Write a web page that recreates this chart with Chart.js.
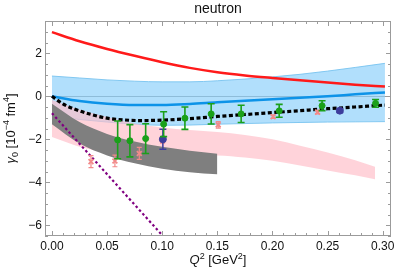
<!DOCTYPE html>
<html>
<head>
<meta charset="utf-8">
<script src="https://cdn.jsdelivr.net/npm/chart.js@4.4.1/dist/chart.umd.min.js"></script>
<style>
  html, body { margin: 0; padding: 0; background: #fff; }
  #wrap { width: 399px; height: 278px; }
</style>
</head>
<body>
<div id="wrap"><canvas id="gammaChart"></canvas></div>
<script>
// axis ticks
const xTicks = [0, 0.05, 0.10, 0.15, 0.20, 0.25, 0.30];
const yTicks = [-6, -4, -2, 0, 2];

// theory curves
const curveQ2   = [0, 0.025, 0.05, 0.075, 0.1, 0.125, 0.15, 0.175, 0.2, 0.225, 0.25, 0.275, 0.302];
const redCurve  = [2.98, 2.56, 2.2, 1.88, 1.58, 1.32, 1.12, 0.97, 0.85, 0.74, 0.64, 0.54, 0.45];
const blueCurve = [0, -0.22, -0.35, -0.41, -0.41, -0.36, -0.28, -0.21, -0.14, -0.07, 0.0, 0.09, 0.18];
const blueUpper = [0.94, 0.85, 0.76, 0.7, 0.67, 0.67, 0.72, 0.8, 0.9, 1.02, 1.17, 1.34, 1.53];
const blueLower = [-0.94, -1.08, -1.2, -1.3, -1.35, -1.34, -1.3, -1.27, -1.24, -1.22, -1.2, -1.19, -1.18];

const dashQ2    = [0, 0.01, 0.02, 0.035, 0.05, 0.065, 0.08, 0.095, 0.125, 0.15, 0.175, 0.2, 0.225, 0.25, 0.275, 0.302];
const dashCurve = [0, -0.36, -0.59, -0.84, -1.02, -1.1, -1.13, -1.12, -1.04, -0.94, -0.85, -0.76, -0.67, -0.58, -0.5, -0.41];

const grayQ2    = [0, 0.025, 0.05, 0.075, 0.1, 0.125, 0.15];
const grayUpper = [-0.35, -1.2, -1.75, -2.1, -2.35, -2.53, -2.67];
const grayLower = [-1.3, -2.2, -2.75, -3.12, -3.37, -3.53, -3.63];

const pinkQ2    = [0, 0.025, 0.05, 0.075, 0.1, 0.125, 0.15, 0.175, 0.2, 0.225, 0.25, 0.275, 0.293];
const pinkUpper = [-0.17, -0.62, -0.97, -1.27, -1.45, -1.57, -1.66, -1.8, -2.0, -2.3, -2.62, -2.98, -3.28];
const pinkLower = [-1.9, -2.35, -2.6, -2.72, -2.78, -2.78, -2.75, -2.85, -3.0, -3.22, -3.45, -3.68, -3.86];

const purpleQ2    = [0, 0.11];
const purpleCurve = [-0.79, -7.03];

// data points with errors
const greenQ2  = [0.0596, 0.0707, 0.085, 0.1013, 0.1206, 0.1444, 0.1716, 0.2061, 0.245, 0.2935];
const greenVal = [-2.03, -2.07, -1.97, -1.30, -1.02, -0.82, -0.82, -0.68, -0.44, -0.33];
const greenErr = [0.88, 0.75, 0.69, 0.58, 0.52, 0.47, 0.4, 0.3, 0.23, 0.18];

const navyQ2  = [0.1006, 0.2611];
const navyVal = [-2.0, -0.67];
const navyErr = [0.47, 0.08];

const crossQ2  = [0.0354, 0.0571, 0.0792, 0.1003, 0.1508, 0.2006, 0.2409];
const crossVal = [-3.04, -3.01, -2.66, -2.03, -1.33, -0.95, -0.74];
const crossErr = [0.28, 0.27, 0.28, 0.15, 0.15, 0.08, 0.08];

const FONT = 'Liberation Sans, Arial, sans-serif';
const FRAME = '#9b9b9b';

const pts = (xs, ys) => xs.map((x, i) => ({ x: x, y: ys[i] }));

function curve(data, color, width, order, extra) {
    return Object.assign({
        data: data,
        borderColor: color,
        borderWidth: width,
        pointRadius: 0,
        fill: false,
        cubicInterpolationMode: 'monotone',
        order: order,
    }, extra || {});
}

function marks(data, errs, color, style, radius, order, capHalf, barWidth) {
    return {
        data: data,
        errors: errs,
        capHalf: capHalf,
        barWidth: barWidth,
        showLine: false,
        pointStyle: style,
        pointRadius: radius,
        pointBackgroundColor: color,
        pointBorderColor: color,
        pointBorderWidth: style === 'crossRot' ? 1.8 : 1,
        borderColor: color,
        order: order,
    };
}

const datasets = [
    curve(pts(curveQ2, blueLower), 'rgba(120,195,240,0.9)', 1, 20),
    curve(pts(curveQ2, blueUpper), 'rgba(120,195,240,0.9)', 1, 21, { fill: { target: 0 }, backgroundColor: 'rgba(135,206,250,0.65)' }),
    curve(pts(pinkQ2, pinkLower), 'rgba(0,0,0,0)', 0, 18),
    curve(pts(pinkQ2, pinkUpper), 'rgba(0,0,0,0)', 0, 19, { fill: { target: 2 }, backgroundColor: 'rgba(255,190,200,0.68)' }),
    curve(pts(grayQ2, grayLower), 'rgba(0,0,0,0)', 0, 16),
    curve(pts(grayQ2, grayUpper), 'rgba(0,0,0,0)', 0, 17, { fill: { target: 4 }, backgroundColor: '#7f7f7f' }),
    curve(pts(curveQ2, blueCurve), '#0d93e8', 2.5, 10),
    curve(pts(curveQ2, redCurve), '#ff1a1a', 2.5, 9),
    curve(pts(dashQ2, dashCurve), '#000', 3.2, 8, { borderDash: [4, 2.5] }),
    curve(pts(purpleQ2, purpleCurve), '#800080', 2.2, 7, { borderDash: [2.5, 2.5], clip: 0 }),
    marks(pts(crossQ2, crossVal), crossErr, '#f28a8a', 'crossRot', 3.4, 3, 2.5, 1.2),
    marks(pts(navyQ2, navyVal), navyErr, '#3d3d9c', 'circle', 3.5, 2, 3.5, 1.5),
    marks(pts(greenQ2, greenVal), greenErr, '#1aa01a', 'circle', 3, 1, 3.5, 1.6),
];

// error bars, drawn right before each marker set
const errorBars = {
    id: 'errorBars',
    beforeDatasetDraw(chart, args) {
        const ds = chart.data.datasets[args.index];
        if (!ds.errors) return;
        const { ctx } = chart;
        const yScale = chart.scales.y;
        ctx.save();
        ctx.strokeStyle = ds.borderColor;
        ctx.lineWidth = ds.barWidth;
        args.meta.data.forEach((pt, i) => {
            const v = ds.data[i].y, e = ds.errors[i];
            const top = yScale.getPixelForValue(v + e);
            const bot = yScale.getPixelForValue(v - e);
            ctx.beginPath();
            ctx.moveTo(pt.x, top); ctx.lineTo(pt.x, bot);
            ctx.moveTo(pt.x - ds.capHalf, top); ctx.lineTo(pt.x + ds.capHalf, top);
            ctx.moveTo(pt.x - ds.capHalf, bot); ctx.lineTo(pt.x + ds.capHalf, bot);
            ctx.stroke();
        });
        ctx.restore();
    }
};

function drawRich(ctx, parts, cx, cy, size, rotate) {
    const fontFor = p => (p.it ? 'italic ' : '') + ((p.sup || p.sub) ? Math.round(size * 0.72) : size) + 'px ' + FONT;
    ctx.save();
    ctx.translate(cx, cy);
    if (rotate) ctx.rotate(-Math.PI / 2);
    let total = 0;
    parts.forEach(p => { ctx.font = fontFor(p); total += ctx.measureText(p.t).width; });
    let x = -total / 2;
    ctx.fillStyle = '#111';
    ctx.textBaseline = 'alphabetic';
    ctx.textAlign = 'left';
    parts.forEach(p => {
        ctx.font = fontFor(p);
        const dy = p.sup ? -size * 0.4 : p.sub ? size * 0.22 : 0;
        ctx.fillText(p.t, x, size * 0.36 + dy);
        x += ctx.measureText(p.t).width;
    });
    ctx.restore();
}

// frame with inward ticks, plus title and axis labels
const framePlugin = {
    id: 'frame',
    afterDraw(chart) {
        const { ctx, chartArea: a, scales: { x, y } } = chart;
        ctx.save();
        ctx.strokeStyle = FRAME;
        ctx.lineWidth = 1;
        ctx.strokeRect(a.left + 0.5, a.top + 0.5, a.right - a.left - 1, a.bottom - a.top - 1);
        ctx.beginPath();
        for (let k = 0; k <= 30; k++) {
            const px = Math.round(x.getPixelForValue(k / 100)) + 0.5;
            const len = k % 5 === 0 ? 5 : 3;
            ctx.moveTo(px, a.bottom); ctx.lineTo(px, a.bottom - len);
            ctx.moveTo(px, a.top); ctx.lineTo(px, a.top + len);
        }
        for (let k = -13; k <= 7; k++) {
            const py = Math.round(y.getPixelForValue(k / 2)) + 0.5;
            const len = k % 4 === 0 ? 5 : 3;
            ctx.moveTo(a.left, py); ctx.lineTo(a.left + len, py);
            ctx.moveTo(a.right, py); ctx.lineTo(a.right - len, py);
        }
        ctx.stroke();
        ctx.restore();

        const midX = (a.left + a.right) / 2;
        drawRich(ctx, [{ t: 'neutron' }], midX, 8, 14, false);
        drawRich(ctx, [{ t: 'Q', it: true }, { t: '2', sup: true }, { t: ' [GeV' }, { t: '2', sup: true }, { t: ']' }],
            midX, 259.5, 13, false);
        drawRich(ctx, [{ t: 'γ', it: true }, { t: '0', sub: true }, { t: ' [10' }, { t: '−4', sup: true },
            { t: ' fm' }, { t: '4', sup: true }, { t: ']' }], 10, (a.top + a.bottom) / 2, 13, true);
    }
};

new Chart(document.getElementById('gammaChart'), {
    type: 'line',
    data: { datasets: datasets },
    plugins: [errorBars, framePlugin],
    options: {
        responsive: true,
        maintainAspectRatio: false,
        animation: false,
        layout: { padding: { top: 21, right: 8, bottom: 0, left: 0 } },
        plugins: {
            legend: { display: false },
            tooltip: { enabled: false },
            title: { display: false },
        },
        scales: {
            x: {
                type: 'linear',
                min: -0.0063,
                max: 0.3075,
                afterBuildTicks: s => { s.ticks = xTicks.map(v => ({ value: v })); },
                afterFit: s => { s.height = 42; s.paddingLeft = 0; s.paddingRight = 0; },
                grid: { display: false, drawTicks: false },
                border: { display: false },
                ticks: {
                    padding: 3,
                    color: '#111',
                    font: { size: 12, family: FONT },
                    maxRotation: 0,
                    autoSkip: false,
                    callback: v => v.toFixed(2),
                },
            },
            y: {
                type: 'linear',
                min: -6.5,
                max: 3.5,
                afterBuildTicks: s => { s.ticks = yTicks.map(v => ({ value: v })); },
                afterFit: s => { s.width = 45; s.paddingTop = 0; s.paddingBottom = 0; },
                grid: {
                    drawTicks: false,
                    color: c => (c.tick && c.tick.value === 0 ? FRAME : 'rgba(0,0,0,0)'),
                    lineWidth: 1,
                },
                border: { display: false },
                ticks: {
                    padding: 3,
                    color: '#111',
                    font: { size: 12, family: FONT },
                    autoSkip: false,
                    callback: v => (v < 0 ? '\u2212' + Math.abs(v) : String(v)),
                },
            },
        },
    },
});
</script>
</body>
</html>
